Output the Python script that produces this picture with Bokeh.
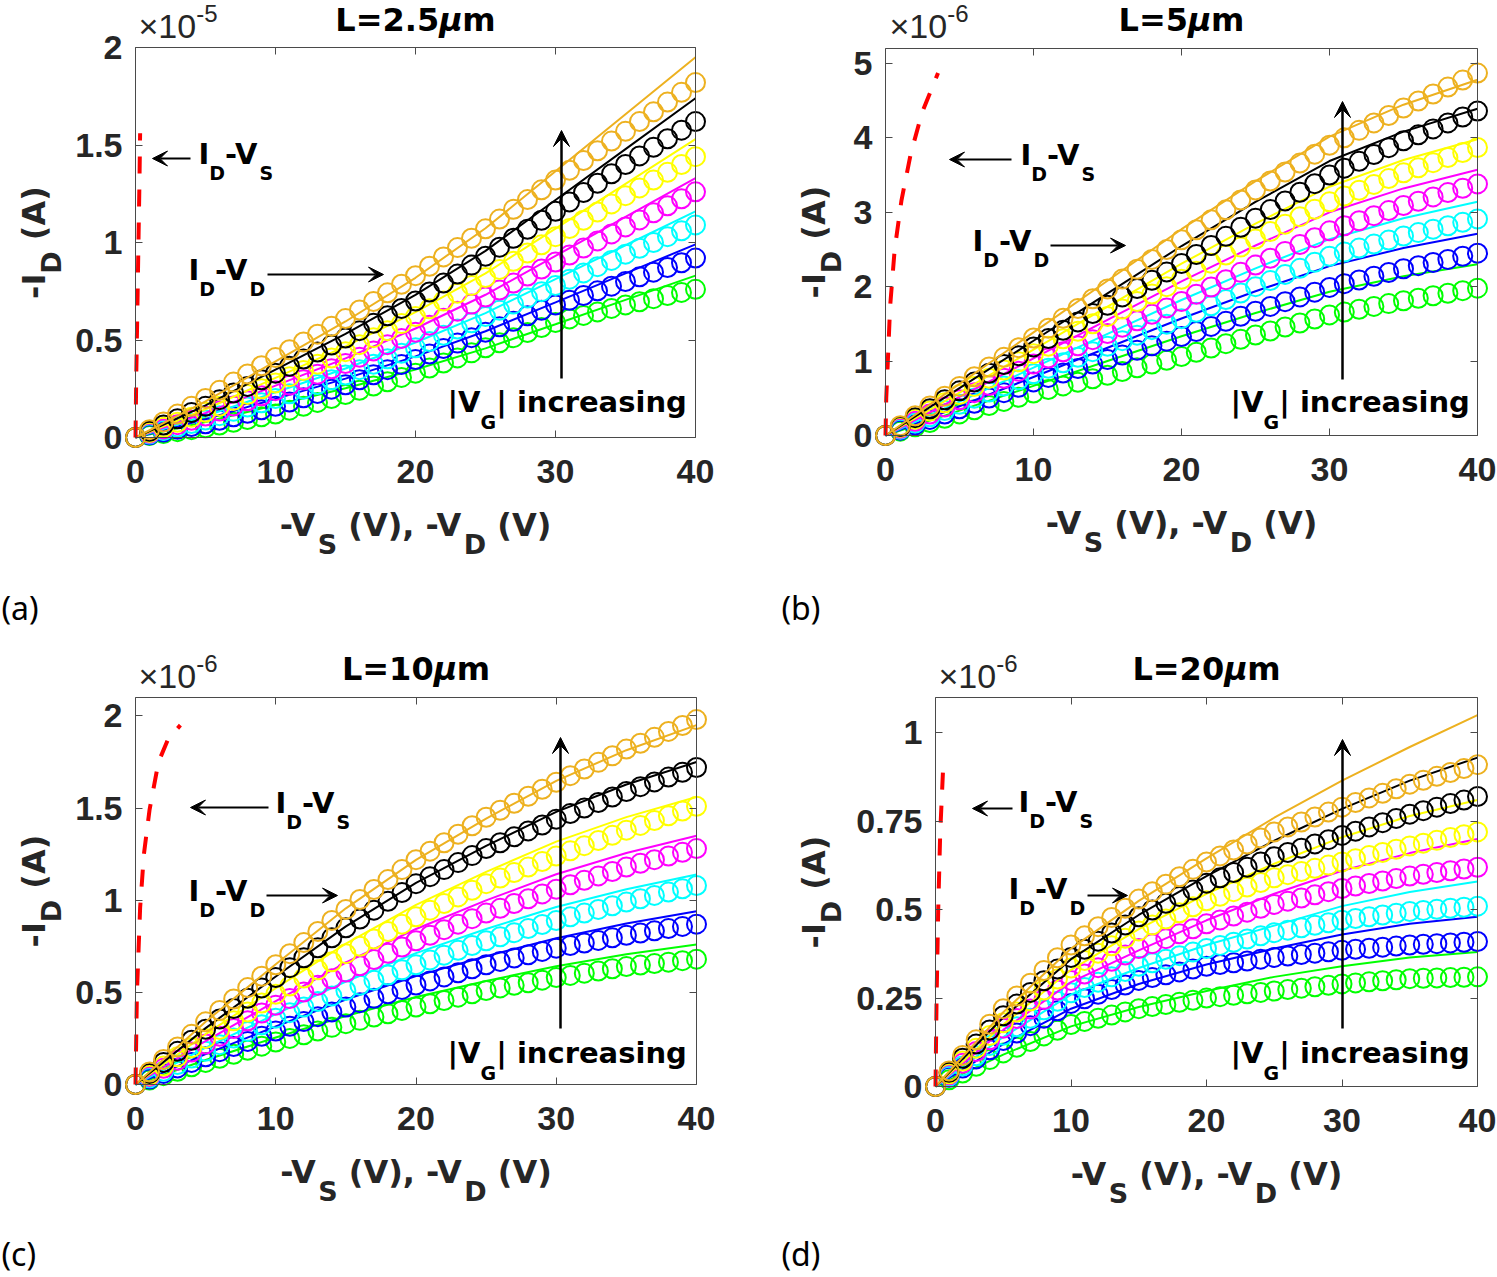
from bokeh.plotting import figure
from bokeh.layouts import column, row
from bokeh.models import Range1d, FixedTicker, LinearAxis, Label, Arrow, VeeHead
from bokeh.embed import file_html
from bokeh.resources import INLINE

# ---------------- data ----------------
V_MEAS = list(range(0, 41))                      # -V_D (V), measured every 1 V
V_MODEL = [0, 5, 10, 15, 20, 25, 30, 35, 40]     # -V_D (V), model curves

# Panel (a) L=2.5 um, current in units of 1e-5 A
a_meas_green = [0, .01, .02, .03, .04, .05, .064, .078, .092, .106, .12, .14, .16, .18, .20, .22, .242, .264, .286, .308, .33, .356, .382, .408, .434, .46, .486, .512, .538, .564, .59, .608, .626, .644, .662, .68, .696, .712, .728, .744, .76]
a_meas_blue = [0, .014, .028, .042, .056, .07, .088, .106, .124, .142, .16, .182, .204, .226, .248, .27, .296, .322, .348, .374, .40, .428, .456, .484, .512, .54, .568, .596, .624, .652, .68, .704, .728, .752, .776, .80, .824, .848, .872, .896, .92]
a_meas_cyan = [0, .018, .036, .054, .072, .09, .112, .134, .156, .178, .20, .224, .248, .272, .296, .32, .348, .376, .404, .432, .46, .492, .524, .556, .588, .62, .652, .684, .716, .748, .78, .812, .844, .876, .908, .94, .97, 1.00, 1.03, 1.06, 1.09]
a_meas_magenta = [0, .022, .044, .066, .088, .11, .136, .162, .188, .214, .24, .268, .296, .324, .352, .38, .412, .444, .476, .508, .54, .576, .612, .648, .684, .72, .756, .792, .828, .864, .90, .936, .972, 1.008, 1.044, 1.08, 1.116, 1.152, 1.188, 1.224, 1.26]
a_meas_yellow = [0, .026, .052, .078, .104, .13, .16, .19, .22, .25, .28, .312, .344, .376, .408, .44, .476, .512, .548, .584, .62, .66, .70, .74, .78, .82, .862, .904, .946, .988, 1.03, 1.072, 1.114, 1.156, 1.198, 1.24, 1.28, 1.32, 1.36, 1.40, 1.44]
a_meas_black = [0, .032, .064, .096, .128, .16, .194, .228, .262, .296, .33, .366, .402, .438, .474, .51, .548, .586, .624, .662, .70, .746, .792, .838, .884, .93, .976, 1.022, 1.068, 1.114, 1.16, 1.208, 1.256, 1.304, 1.352, 1.40, 1.444, 1.488, 1.532, 1.576, 1.62]
a_meas_orange = [0, .04, .08, .12, .16, .20, .242, .284, .326, .368, .41, .45, .49, .53, .57, .61, .654, .698, .742, .786, .83, .878, .926, .974, 1.022, 1.07, 1.12, 1.17, 1.22, 1.27, 1.32, 1.37, 1.42, 1.47, 1.52, 1.57, 1.62, 1.67, 1.72, 1.77, 1.82]
a_fit_green = [0, .079, .166, .253, .349, .457, .581, .706, .83]
a_fit_blue = [0, .094, .198, .302, .416, .545, .693, .842, .99]
a_fit_cyan = [0, .110, .232, .354, .487, .638, .812, .986, 1.16]
a_fit_magenta = [0, .126, .266, .406, .559, .732, .931, 1.131, 1.33]
a_fit_yellow = [0, .145, .306, .467, .643, .842, 1.071, 1.301, 1.53]
a_fit_black = [0, .165, .348, .531, .731, .957, 1.218, 1.479, 1.74]
a_fit_orange = [0, .185, .39, .595, .819, 1.073, 1.365, 1.658, 1.95]
a_vs_x = [0, .05, .12, .2, .28, .33]
a_vs_y = [0, .3, .6, .95, 1.3, 1.56]

# Panel (b) L=5 um, units of 1e-6 A
b_meas_green = [0, .058, .116, .174, .232, .29, .346, .402, .458, .514, .57, .618, .666, .714, .762, .81, .86, .91, .96, 1.01, 1.06, 1.118, 1.176, 1.234, 1.292, 1.35, 1.404, 1.458, 1.512, 1.566, 1.62, 1.658, 1.696, 1.734, 1.772, 1.81, 1.844, 1.878, 1.912, 1.946, 1.98]
b_meas_blue = [0, .072, .144, .216, .288, .36, .432, .504, .576, .648, .72, .78, .84, .90, .96, 1.02, 1.082, 1.144, 1.206, 1.268, 1.33, 1.398, 1.466, 1.534, 1.602, 1.67, 1.734, 1.798, 1.862, 1.926, 1.99, 2.04, 2.09, 2.14, 2.19, 2.24, 2.282, 2.324, 2.366, 2.408, 2.45]
b_meas_cyan = [0, .084, .168, .252, .336, .42, .502, .584, .666, .748, .83, .904, .978, 1.052, 1.126, 1.20, 1.274, 1.348, 1.422, 1.496, 1.57, 1.656, 1.742, 1.828, 1.914, 2.00, 2.082, 2.164, 2.246, 2.328, 2.41, 2.464, 2.518, 2.572, 2.626, 2.68, 2.726, 2.772, 2.818, 2.864, 2.91]
b_meas_magenta = [0, .096, .192, .288, .384, .48, .576, .672, .768, .864, .96, 1.042, 1.124, 1.206, 1.288, 1.37, 1.456, 1.542, 1.628, 1.714, 1.80, 1.898, 1.996, 2.094, 2.192, 2.29, 2.382, 2.474, 2.566, 2.658, 2.75, 2.818, 2.886, 2.954, 3.022, 3.09, 3.148, 3.206, 3.264, 3.322, 3.38]
b_meas_yellow = [0, .11, .22, .33, .44, .55, .66, .77, .88, .99, 1.10, 1.20, 1.30, 1.40, 1.50, 1.60, 1.70, 1.80, 1.90, 2.00, 2.10, 2.208, 2.316, 2.424, 2.532, 2.64, 2.74, 2.84, 2.94, 3.04, 3.14, 3.218, 3.296, 3.374, 3.452, 3.53, 3.598, 3.666, 3.734, 3.802, 3.87]
b_meas_black = [0, .12, .24, .36, .48, .60, .718, .836, .954, 1.072, 1.19, 1.302, 1.414, 1.526, 1.638, 1.75, 1.862, 1.974, 2.086, 2.198, 2.31, 2.432, 2.554, 2.676, 2.798, 2.92, 3.036, 3.152, 3.268, 3.384, 3.50, 3.592, 3.684, 3.776, 3.868, 3.96, 4.04, 4.12, 4.20, 4.28, 4.36]
b_meas_orange = [0, .132, .264, .396, .528, .66, .79, .92, 1.05, 1.18, 1.31, 1.442, 1.574, 1.706, 1.838, 1.97, 2.102, 2.234, 2.366, 2.498, 2.63, 2.764, 2.898, 3.032, 3.166, 3.30, 3.42, 3.54, 3.66, 3.78, 3.90, 4.00, 4.10, 4.20, 4.30, 4.40, 4.494, 4.588, 4.682, 4.776, 4.87]
b_fit_green = [0, .334, .667, 1.001, 1.334, 1.645, 1.932, 2.139, 2.30]
b_fit_blue = [0, .393, .786, 1.179, 1.572, 1.938, 2.276, 2.520, 2.71]
b_fit_cyan = [0, .455, .911, 1.366, 1.821, 2.245, 2.638, 2.920, 3.14]
b_fit_magenta = [0, .518, 1.035, 1.553, 2.071, 2.553, 2.999, 3.320, 3.57]
b_fit_yellow = [0, .577, 1.154, 1.731, 2.308, 2.846, 3.343, 3.701, 3.98]
b_fit_black = [0, .637, 1.273, 1.910, 2.546, 3.139, 3.688, 4.083, 4.39]
b_fit_orange = [0, .693, 1.386, 2.079, 2.772, 3.418, 4.015, 4.445, 4.78]
b_vs_x = [0, .05, .15, .31, .62, 1.08, 1.7, 2.47, 3.55]
b_vs_y = [0, .5, .96, 1.73, 2.5, 3.16, 3.78, 4.34, 4.87]

# Panel (c) L=10 um, units of 1e-6 A
c_meas_green = [0, .024, .048, .072, .096, .12, .142, .164, .186, .208, .23, .25, .27, .29, .31, .33, .348, .366, .384, .402, .42, .438, .456, .474, .492, .51, .524, .538, .552, .566, .58, .592, .604, .616, .628, .64, .648, .656, .664, .672, .68]
c_meas_blue = [0, .03, .06, .09, .12, .15, .178, .206, .234, .262, .29, .316, .342, .368, .394, .42, .444, .468, .492, .516, .54, .562, .584, .606, .628, .65, .668, .686, .704, .722, .74, .754, .768, .782, .796, .81, .822, .834, .846, .858, .87]
c_meas_cyan = [0, .036, .072, .108, .144, .18, .216, .252, .288, .324, .36, .39, .42, .45, .48, .51, .538, .566, .594, .622, .65, .676, .702, .728, .754, .78, .802, .824, .846, .868, .89, .91, .93, .95, .97, .99, 1.008, 1.026, 1.044, 1.062, 1.08]
c_meas_magenta = [0, .044, .088, .132, .176, .22, .262, .304, .346, .388, .43, .466, .502, .538, .574, .61, .644, .678, .712, .746, .78, .81, .84, .87, .90, .93, .956, .982, 1.008, 1.034, 1.06, 1.084, 1.108, 1.132, 1.156, 1.18, 1.20, 1.22, 1.24, 1.26, 1.28]
c_meas_yellow = [0, .05, .10, .15, .20, .25, .298, .346, .394, .442, .49, .534, .578, .622, .666, .71, .75, .79, .83, .87, .91, .946, .982, 1.018, 1.054, 1.09, 1.12, 1.15, 1.18, 1.21, 1.24, 1.268, 1.296, 1.324, 1.352, 1.38, 1.406, 1.432, 1.458, 1.484, 1.51]
c_meas_black = [0, .06, .12, .18, .24, .30, .356, .412, .468, .524, .58, .634, .688, .742, .796, .85, .898, .946, .994, 1.042, 1.09, 1.128, 1.166, 1.204, 1.242, 1.28, 1.312, 1.344, 1.376, 1.408, 1.44, 1.47, 1.50, 1.53, 1.56, 1.59, 1.616, 1.642, 1.668, 1.694, 1.72]
c_meas_orange = [0, .068, .136, .204, .272, .34, .402, .464, .526, .588, .65, .71, .77, .83, .89, .95, 1.004, 1.058, 1.112, 1.166, 1.22, 1.266, 1.312, 1.358, 1.404, 1.45, 1.488, 1.526, 1.564, 1.602, 1.64, 1.676, 1.712, 1.748, 1.784, 1.82, 1.852, 1.884, 1.916, 1.948, 1.98]
c_fit_green = [0, .133, .255, .372, .475, .562, .642, .707, .76]
c_fit_blue = [0, .165, .315, .461, .588, .696, .794, .874, .94]
c_fit_cyan = [0, .200, .382, .559, .713, .844, .963, 1.060, 1.14]
c_fit_magenta = [0, .236, .452, .662, .844, .999, 1.141, 1.256, 1.35]
c_fit_yellow = [0, .273, .523, .764, .975, 1.154, 1.318, 1.451, 1.56]
c_fit_black = [0, .306, .586, .858, 1.094, 1.295, 1.479, 1.628, 1.75]
c_fit_orange = [0, .341, .653, .956, 1.219, 1.443, 1.648, 1.814, 1.95]
c_vs_x = [0, .1, .33, .6, 1.0, 1.64, 2.3, 3.2]
c_vs_y = [0, .49, .96, 1.25, 1.49, 1.75, 1.87, 1.95]

# Panel (d) L=20 um, units of 1e-6 A
d_meas_green = [0, .019, .038, .057, .076, .095, .111, .127, .143, .159, .175, .184, .193, .202, .211, .22, .226, .232, .238, .244, .25, .254, .258, .262, .266, .27, .274, .278, .282, .286, .29, .293, .296, .299, .302, .305, .306, .307, .308, .309, .31]
d_meas_blue = [0, .026, .052, .078, .104, .13, .151, .172, .193, .214, .235, .248, .261, .274, .287, .30, .308, .316, .324, .332, .34, .345, .35, .355, .36, .365, .369, .373, .377, .381, .385, .388, .391, .394, .397, .40, .402, .404, .406, .408, .41]
d_meas_cyan = [0, .029, .058, .087, .116, .145, .169, .193, .217, .241, .265, .28, .295, .31, .325, .34, .35, .36, .37, .38, .39, .399, .408, .417, .426, .435, .442, .449, .456, .463, .47, .475, .48, .485, .49, .495, .498, .501, .504, .507, .51]
d_meas_magenta = [0, .033, .066, .099, .132, .165, .192, .219, .246, .273, .30, .318, .336, .354, .372, .39, .404, .418, .432, .446, .46, .471, .482, .493, .504, .515, .524, .533, .542, .551, .56, .567, .574, .581, .588, .595, .60, .605, .61, .615, .62]
d_meas_yellow = [0, .036, .072, .108, .144, .18, .211, .242, .273, .304, .335, .356, .377, .398, .419, .44, .457, .474, .491, .508, .525, .538, .551, .564, .577, .59, .599, .608, .617, .626, .635, .644, .653, .662, .671, .68, .688, .696, .704, .712, .72]
d_meas_black = [0, .04, .08, .12, .16, .20, .233, .266, .299, .332, .365, .388, .411, .434, .457, .48, .499, .518, .537, .556, .575, .59, .605, .62, .635, .65, .662, .674, .686, .698, .71, .722, .734, .746, .758, .77, .78, .79, .80, .81, .82]
d_meas_orange = [0, .044, .088, .132, .176, .22, .256, .292, .328, .364, .40, .426, .452, .478, .504, .53, .551, .572, .593, .614, .635, .652, .669, .686, .703, .72, .734, .748, .762, .776, .79, .803, .816, .829, .842, .855, .866, .877, .888, .899, .91]
d_fit_green = [0, .09, .17, .225, .27, .31, .34, .365, .38]
d_fit_blue = [0, .12, .22, .29, .345, .39, .43, .46, .48]
d_fit_cyan = [0, .14, .26, .335, .40, .455, .51, .55, .58]
d_fit_magenta = [0, .16, .295, .385, .47, .545, .61, .66, .70]
d_fit_yellow = [0, .175, .33, .445, .545, .63, .705, .765, .81]
d_fit_black = [0, .195, .36, .485, .595, .695, .785, .865, .93]
d_fit_orange = [0, .21, .39, .525, .645, .76, .865, .96, 1.05]
d_vs_x = [0, .08, .2, .35, .55]
d_vs_y = [0, .25, .5, .72, .89]

X_TICKS = [0, 10, 20, 30, 40]
a_y_ticks, a_y_labels = [0, 0.5, 1, 1.5, 2], ["0", "0.5", "1", "1.5", "2"]
b_y_ticks, b_y_labels = [0, 1, 2, 3, 4, 5], ["0", "1", "2", "3", "4", "5"]
c_y_ticks, c_y_labels = [0, 0.5, 1, 1.5, 2], ["0", "0.5", "1", "1.5", "2"]
d_y_ticks, d_y_labels = [0, 0.25, 0.5, 0.75, 1], ["0", "0.25", "0.5", "0.75", "1"]

SERIES = ["green", "blue", "cyan", "magenta", "yellow", "black", "orange"]
COLORS = {"green": "#00FF00", "blue": "#0000FF", "cyan": "#00FFFF", "magenta": "#FF00FF",
          "yellow": "#FFFF00", "black": "#000000", "orange": "#EDB120"}

# ---------------- styling helpers ----------------
FRAME = "#4a4a4a"
TXT = "#262626"
BASE_K = 0.38   # empirical correction of the label baseline (fraction of font size)
DJB = {' ': .348, '(': .458, ')': .458, ',': .380, '-': .415, '.': .380, '=': .838, '|': .367,
       'A': .774, 'D': .830, 'G': .821, 'I': .371, 'L': .637, 'S': .720, 'V': .774, 'a': .675,
       'c': .593, 'e': .678, 'g': .716, 'i': .343, 'm': 1.042, 'n': .712, 'r': .493, 's': .595,
       'μ': .721}
for _d in "0123456789":
    DJB[_d] = .696
LSR = {'×': .584, '-': .333, ' ': .278}
for _d in "0123456789":
    LSR[_d] = .556


def tw(txt, size, table):
    return sum(table.get(ch, .6) for ch in txt) * size


def S(txt, size, shift=0, font="DejaVu Sans", style="bold", color="#000000", table=DJB):
    return (txt, font, size, style, shift, color, table)


def seg_width(segs):
    return sum(tw(s[0], s[2], s[6]) for s in segs)


def add_text(p, conv, px, py, segs, angle=0.0):
    x, y = conv(px, py)
    cur = 0.0
    for (txt, font, size, style, shift, color, table) in segs:
        lead = len(txt) - len(txt.lstrip(" "))
        cur += tw(" " * lead, size, table)
        body = txt.lstrip(" ")
        corr = BASE_K * size
        if angle == 0:
            xo, yo = cur, -shift + corr
        else:
            xo, yo = shift - corr, cur
        p.add_layout(Label(x=x, y=y, x_offset=xo, y_offset=yo, text=body, angle=angle,
                           text_font=font, text_font_size=f"{size}px", text_font_style=style,
                           text_color=color, text_align="left", text_baseline="alphabetic"))
        cur += tw(body, size, table)


def add_arrow(p, conv, p0, p1, width=2.0, head=15):
    x0, y0 = conv(*p0)
    x1, y1 = conv(*p1)
    p.add_layout(Arrow(end=VeeHead(size=head, fill_color="black", line_color="black", line_width=1),
                       x_start=x0, y_start=y0, x_end=x1, y_end=y1,
                       line_color="black", line_width=width))


def style_axis(ax, labels=True):
    ax.major_tick_in = 7
    ax.major_tick_out = 0
    ax.minor_tick_in = 0
    ax.minor_tick_out = 0
    ax.axis_line_color = FRAME
    ax.axis_line_width = 1
    ax.major_tick_line_color = FRAME
    ax.major_tick_line_width = 1
    if labels:
        ax.major_label_text_font = "Liberation Sans"
        ax.major_label_text_font_size = "34px"
        ax.major_label_text_font_style = "bold"
        ax.major_label_text_color = TXT
    else:
        ax.major_label_text_color = None
        ax.major_label_text_font_size = "1px"


def make_panel(cfg):
    fx, fy, W, H = cfg["fig"]
    L, R, T, B = cfg["frame"]
    ymax = cfg["ymax"]
    ppx = (R - L) / 40.0
    ppy = (B - T) / ymax
    xr = Range1d((fx - L) / ppx, (fx + W - L) / ppx)
    yr = Range1d(-(fy + H - B) / ppy, ymax + (T - fy) / ppy)
    p = figure(width=W, height=H, x_range=xr, y_range=yr, title=None,
               output_backend="svg", toolbar_location=None,
               min_border=0, min_border_left=0, min_border_right=0,
               min_border_top=0, min_border_bottom=0)
    p.xgrid.visible = False
    p.ygrid.visible = False
    p.outline_line_color = None
    p.background_fill_color = "white"
    p.border_fill_color = "white"

    def conv(px, py):
        return ((px - L) / ppx, (B - py) / ppy)

    # real axes, pinned to the data box
    xa = p.xaxis[0]
    ya = p.yaxis[0]
    xa.ticker = FixedTicker(ticks=X_TICKS)
    ya.ticker = FixedTicker(ticks=cfg["yticks"])
    ya.major_label_overrides = {float(t): s for t, s in zip(cfg["yticks"], cfg["ylabels"])}
    xa.fixed_location = 0
    ya.fixed_location = 0
    xa.bounds = (0, 40)
    ya.bounds = (0, ymax)
    style_axis(xa)
    style_axis(ya)
    xa.major_label_standoff = 22
    ya.major_label_standoff = 13
    top = LinearAxis(ticker=FixedTicker(ticks=X_TICKS), fixed_location=ymax, bounds=(0, 40))
    right = LinearAxis(ticker=FixedTicker(ticks=cfg["yticks"]), fixed_location=40, bounds=(0, ymax))
    style_axis(top, labels=False)
    style_axis(right, labels=False)
    p.add_layout(top, "above")
    p.add_layout(right, "right")

    for name in SERIES:
        col = COLORS[name]
        p.scatter(V_MEAS, cfg["meas"][name], marker="circle", size=19, fill_color=None,
                  line_color=col, line_width=2)
        p.line(V_MODEL, cfg["fit"][name], line_color=col, line_width=2)
    p.line(cfg["vs"][0], cfg["vs"][1], line_color="#FF0000", line_width=4, line_dash="17 16")

    # title  (L=..., with an italic mu)
    tsegs = [S(cfg["title"], 32, 0), S("μ", 32, 0, style="bold italic"), S("m", 32, 0)]
    wt = seg_width(tsegs)
    add_text(p, conv, (L + R) / 2.0 - wt / 2.0, cfg["title_y"], tsegs)
    # exponent
    add_text(p, conv, cfg["exp_pos"][0], cfg["exp_pos"][1],
             [S("×10", 34, 0, "Liberation Sans", "normal", TXT, LSR),
              S(cfg["exp"], 24, -16, "Liberation Sans", "normal", TXT, LSR)])
    # x label
    xl = [S("-V", 32, 0, color=TXT), S("S", 27, 17, color=TXT), S(" (V), -V", 32, 0, color=TXT),
          S("D", 27, 17, color=TXT), S(" (V)", 32, 0, color=TXT)]
    wx = seg_width(xl)
    add_text(p, conv, (L + R) / 2.0 - wx / 2.0, B + 100, xl)
    # y label (rotated)
    yl = [S("-I", 32, 0, color=TXT), S("D", 27, 15, color=TXT), S(" (A)", 32, 0, color=TXT)]
    wy = seg_width(yl)
    add_text(p, conv, cfg["ylab_x"], (T + B) / 2.0 + wy / 2.0, yl, angle=1.5707963267948966)
    # annotations
    an = cfg["ann"]
    add_arrow(p, conv, an["vs_arrow"][0], an["vs_arrow"][1])
    add_text(p, conv, an["vs_text"][0], an["vs_text"][1],
             [S("I", 29), S("D", 19, 15), S("-V", 29), S("S", 19, 15)])
    add_arrow(p, conv, an["vd_arrow"][0], an["vd_arrow"][1])
    add_text(p, conv, an["vd_text"][0], an["vd_text"][1],
             [S("I", 29), S("D", 19, 15), S("-V", 29), S("D", 19, 15)])
    add_arrow(p, conv, an["vg_arrow"][0], an["vg_arrow"][1], width=2.5, head=16)
    add_text(p, conv, an["vg_text"][0], an["vg_text"][1],
             [S("|V", 29), S("G", 19, 16), S("| increasing", 29)])
    # panel letter
    add_text(p, conv, cfg["letter_pos"][0], cfg["letter_pos"][1],
             [S(cfg["letter"], 32, 0, "Noto Sans", "normal", "#000000")])
    return p


def pack(prefix):
    g = globals()
    return ({n: g[f"{prefix}_meas_{n}"] for n in SERIES}, {n: g[f"{prefix}_fit_{n}"] for n in SERIES})


am, af = pack("a")
bm, bf = pack("b")
cm, cf = pack("c")
dm, df = pack("d")

cfgA = dict(fig=(0, 0, 760, 640), frame=(135, 695, 47, 437), ymax=2.0,
            yticks=a_y_ticks, ylabels=a_y_labels, meas=am, fit=af, vs=(a_vs_x, a_vs_y),
            title="L=2.5", title_y=32, exp="-5", exp_pos=(138, 38), ylab_x=46,
            letter="(a)", letter_pos=(1, 619),
            ann=dict(vs_arrow=((190, 158), (152, 158)), vs_text=(198, 165),
                     vd_arrow=((267, 274), (383, 274)), vd_text=(188, 281),
                     vg_arrow=((561, 378), (561, 130)), vg_text=(447, 413)))
cfgB = dict(fig=(760, 0, 737, 640), frame=(885, 1477, 48, 435), ymax=5.2,
            yticks=b_y_ticks, ylabels=b_y_labels, meas=bm, fit=bf, vs=(b_vs_x, b_vs_y),
            title="L=5", title_y=32, exp="-6", exp_pos=(889, 38), ylab_x=826,
            letter="(b)", letter_pos=(781, 619),
            ann=dict(vs_arrow=((1011, 159), (949, 159)), vs_text=(1020, 166),
                     vd_arrow=((1050, 245), (1125, 245)), vd_text=(972, 252),
                     vg_arrow=((1342, 379), (1342, 101)), vg_text=(1230, 413)))
cfgC = dict(fig=(0, 640, 760, 637), frame=(135, 696, 697, 1084), ymax=2.1,
            yticks=c_y_ticks, ylabels=c_y_labels, meas=cm, fit=cf, vs=(c_vs_x, c_vs_y),
            title="L=10", title_y=681, exp="-6", exp_pos=(138, 688), ylab_x=46,
            letter="(c)", letter_pos=(1, 1265),
            ann=dict(vs_arrow=((268, 807), (190, 807)), vs_text=(275, 814),
                     vd_arrow=((266, 895), (337, 895)), vd_text=(188, 902),
                     vg_arrow=((560, 1028), (560, 737)), vg_text=(447, 1064)))
cfgD = dict(fig=(760, 640, 737, 637), frame=(935, 1477, 697, 1086), ymax=1.1,
            yticks=d_y_ticks, ylabels=d_y_labels, meas=dm, fit=df, vs=(d_vs_x, d_vs_y),
            title="L=20", title_y=681, exp="-6", exp_pos=(938, 688), ylab_x=826,
            letter="(d)", letter_pos=(781, 1265),
            ann=dict(vs_arrow=((1012, 808), (972, 808)), vs_text=(1018, 813),
                     vd_arrow=((1087, 895), (1127, 895)), vd_text=(1008, 900),
                     vg_arrow=((1342, 1028), (1342, 739)), vg_text=(1230, 1064)))

pA = make_panel(cfgA)
pB = make_panel(cfgB)
pC = make_panel(cfgC)
pD = make_panel(cfgD)

layout = column(row(pA, pB), row(pC, pD))
open("out.html", "w").write(file_html(layout, INLINE, title="ID-VD curves"))
